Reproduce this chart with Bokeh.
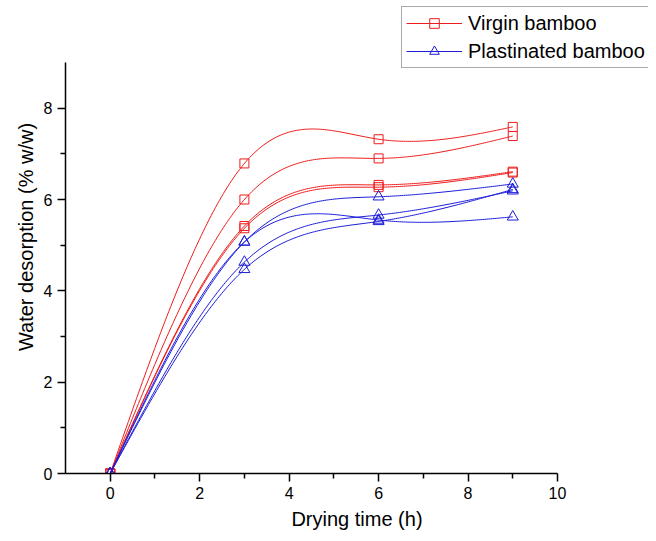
import numpy as np
from bokeh.plotting import figure
from bokeh.models import FixedTicker, Legend, LegendItem
from bokeh.embed import file_html
from bokeh.resources import INLINE

# ---- data ----
time_h = [0, 3, 6, 9]
virgin_1 = [0, 6.79, 7.32, 7.59]
virgin_2 = [0, 6.00, 6.90, 7.39]
virgin_3 = [0, 5.42, 6.32, 6.61]
virgin_4 = [0, 5.37, 6.27, 6.59]
plast_1 = [0, 5.07, 6.06, 6.34]
plast_2 = [0, 5.07, 5.55, 5.62]
plast_3 = [0, 4.63, 5.66, 6.19]
plast_4 = [0, 4.47, 5.52, 6.22]

virgin_series = [virgin_1, virgin_2, virgin_3, virgin_4]
plast_series = [plast_1, plast_2, plast_3, plast_4]

x_ticks = [0, 2, 4, 6, 8, 10]
x_minor = [1, 3, 5, 7, 9]
y_ticks = [0, 2, 4, 6, 8]
y_minor = [1, 3, 5, 7]
x_axis_bounds = (-1, 10)
y_axis_bounds = (0, 9)

RED = "#ee1c1c"
BLUE = "#1c1cd8"
FONT = "Liberation Sans"


def natural_spline(x, y, n=200):
    x = np.asarray(x, float)
    y = np.asarray(y, float)
    k = len(x)
    h = np.diff(x)
    A = np.zeros((k, k))
    b = np.zeros(k)
    A[0, 0] = 1
    A[-1, -1] = 1
    for i in range(1, k - 1):
        A[i, i - 1] = h[i - 1]
        A[i, i] = 2 * (h[i - 1] + h[i])
        A[i, i + 1] = h[i]
        b[i] = 6 * ((y[i + 1] - y[i]) / h[i] - (y[i] - y[i - 1]) / h[i - 1])
    M = np.linalg.solve(A, b)
    xs = np.linspace(x[0], x[-1], n)
    ys = np.empty_like(xs)
    for j, xv in enumerate(xs):
        i = min(np.searchsorted(x, xv, side="right") - 1, k - 2)
        t1 = x[i + 1] - xv
        t0 = xv - x[i]
        hi = h[i]
        ys[j] = (M[i] * t1 ** 3 / (6 * hi) + M[i + 1] * t0 ** 3 / (6 * hi)
                 + (y[i] / hi - M[i] * hi / 6) * t1
                 + (y[i + 1] / hi - M[i + 1] * hi / 6) * t0)
    return xs, ys


# frame spans to the top/right canvas edges so the legend is not clipped;
# axis lines are limited to their bounds
p = figure(width=648, height=533, x_range=(-1, 12.035), y_range=(0, 10.358),
           output_backend="svg", toolbar_location=None,
           min_border_left=65, min_border_right=0,
           min_border_top=0, min_border_bottom=60)
p.outline_line_color = None
p.xgrid.visible = False
p.ygrid.visible = False
p.background_fill_color = "white"
p.border_fill_color = "white"

v_line = v_mark = b_line = b_mark = None
for ys in virgin_series:
    sx, sy = natural_spline(time_h, ys)
    v_line = p.line(sx, sy, line_color=RED, line_width=1)
    v_mark = p.scatter(time_h, ys, marker="square", size=9, line_color=RED,
                       fill_alpha=0, line_width=1)
for ys in plast_series:
    sx, sy = natural_spline(time_h, ys)
    b_line = p.line(sx, sy, line_color=BLUE, line_width=1)
    b_mark = p.scatter(time_h, ys, marker="triangle", size=11, line_color=BLUE,
                       fill_alpha=0, line_width=1)

for ax in (p.xaxis[0], p.yaxis[0]):
    ax.axis_line_width = 1.5
    ax.axis_line_color = "black"
    ax.major_tick_line_width = 1.5
    ax.minor_tick_line_width = 1.5
    ax.major_tick_out = 8
    ax.major_tick_in = 0
    ax.minor_tick_out = 5
    ax.minor_tick_in = 0
    ax.major_label_text_font = FONT
    ax.major_label_text_font_size = "16px"
    ax.major_label_text_color = "black"
    ax.axis_label_text_font = FONT
    ax.axis_label_text_font_size = "20px"
    ax.axis_label_text_font_style = "normal"
    ax.axis_label_text_color = "black"
    ax.major_label_standoff = 5

p.xaxis.ticker = FixedTicker(ticks=x_ticks, minor_ticks=x_minor)
p.yaxis.ticker = FixedTicker(ticks=y_ticks, minor_ticks=y_minor)
p.xaxis.bounds = x_axis_bounds
p.yaxis.bounds = y_axis_bounds
p.xaxis.axis_label = "Drying time (h)"
p.yaxis.axis_label = "Water desorption (% w/w)"
p.xaxis.axis_label_standoff = 6
p.yaxis.axis_label_standoff = 4

legend = Legend(items=[
    LegendItem(label="Virgin bamboo", renderers=[v_line, v_mark]),
    LegendItem(label="Plastinated bamboo", renderers=[b_line, b_mark]),
], location=(336, 405))
legend.label_text_font = FONT
legend.label_text_font_size = "20px"
legend.label_text_color = "black"
legend.glyph_width = 56
legend.glyph_height = 24
legend.label_height = 24
legend.spacing = 4
legend.padding = 4
legend.margin = 0
legend.label_standoff = 6
legend.border_line_color = "#555555"
legend.border_line_width = 1.5
legend.background_fill_alpha = 1
p.add_layout(legend, "center")

open("out.html", "w").write(file_html(p, INLINE))
